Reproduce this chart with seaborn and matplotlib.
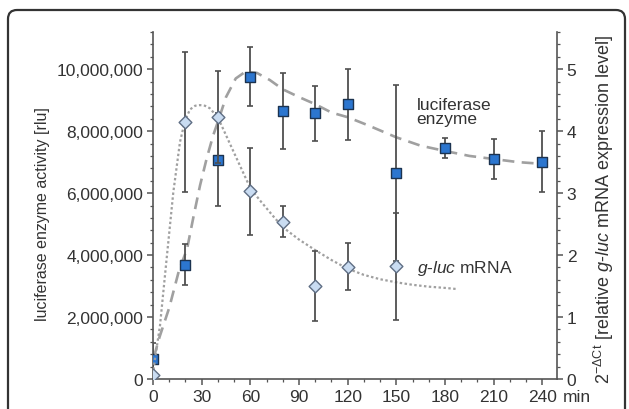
import numpy as np
import pandas as pd
import matplotlib
matplotlib.use("Agg")
import matplotlib.pyplot as plt
import matplotlib.ticker as mticker
from matplotlib.patches import FancyBboxPatch
from matplotlib.transforms import IdentityTransform
import seaborn as sns

# ---- data ----
enz_time = [0, 20, 40, 60, 80, 100, 120, 150, 180, 210, 240]
enz_value = [0.65e6, 3.69e6, 7.07e6, 9.76e6, 8.66e6, 8.58e6, 8.86e6, 6.65e6, 7.45e6, 7.10e6, 7.02e6]
enz_err = [0.5e6, 0.67e6, 1.5e6, 0.95e6, 1.23e6, 0.89e6, 1.15e6, 2.83e6, 0.33e6, 0.66e6, 0.97e6]

mrna_time = [0, 20, 40, 60, 80, 100, 120, 150]
mrna_value = [0.07, 4.15, 4.23, 3.03, 2.54, 1.50, 1.81, 1.82]
mrna_err = [0.03, 1.13, 0.74, 0.70, 0.25, 0.56, 0.38, 0.86]

enz_fit_time = [0.5, 4, 10, 16, 21, 25, 29, 33, 37, 40, 45, 51, 57, 64, 72, 80, 90,
                100, 110, 120, 132, 150, 165, 180, 195, 210, 225, 241]
enz_fit_value = [0.7e6, 1.35e6, 2.3e6, 3.5e6, 4.2e6, 5.25e6, 6.25e6, 7.1e6, 7.85e6, 8.3e6,
                 9.1e6, 9.7e6, 9.92e6, 9.88e6, 9.65e6, 9.35e6, 9.1e6, 8.87e6, 8.6e6, 8.45e6,
                 8.2e6, 7.8e6, 7.53e6, 7.36e6, 7.2e6, 7.1e6, 7.0e6, 6.94e6]

mrna_fit_time = [0, 1.2, 4.3, 8.4, 12.5, 16.6, 19.7, 22.8, 26, 29, 32, 35, 40, 47, 54, 60,
                 66, 74, 80, 90, 100, 110, 120, 130, 140, 150, 160, 170, 180, 188]
mrna_fit_value = [0.07, 0.32, 0.86, 1.94, 3.01, 3.82, 4.17, 4.35, 4.41, 4.42, 4.41, 4.37,
                  4.22, 3.82, 3.42, 3.08, 2.88, 2.63, 2.45, 2.25, 2.08, 1.92, 1.78, 1.68,
                  1.61, 1.56, 1.52, 1.49, 1.47, 1.45]

x_ticks = [0, 30, 60, 90, 120, 150, 180, 210, 240]
left_ticks = [0, 2e6, 4e6, 6e6, 8e6, 10e6]
right_ticks = [0, 1, 2, 3, 4, 5]

# ---- style ----
sns.set_theme(style="ticks")
plt.rcParams["font.family"] = ["Liberation Sans", "DejaVu Sans"]
plt.rcParams["mathtext.fontset"] = "custom"
plt.rcParams["mathtext.rm"] = "Liberation Sans"
plt.rcParams["mathtext.it"] = "Liberation Sans:italic"
plt.rcParams["mathtext.bf"] = "Liberation Sans:bold"

FS = 12.5
axis_col = "#555555"
txt_col = "#333333"
curve_col = "#a0a0a0"
err_col = "#4f4f4f"
sq_fill = "#2c76cf"
sq_edge = "#1c3350"
dm_fill = "#c9dcf2"
dm_edge = "#5f6e84"

fig = plt.figure(figsize=(6.29, 4.10), dpi=100)
fig.patch.set_facecolor("white")
ax = fig.add_axes([153 / 629, 1 - 380 / 410, (557 - 153) / 629, (380 - 33) / 410])
ax2 = ax.twinx()

# rounded frame around figure
frame = FancyBboxPatch((8, -30), 617, 429, boxstyle="round,pad=0,rounding_size=9",
                       transform=IdentityTransform(), facecolor="none",
                       edgecolor="#333333", linewidth=1.6, clip_on=False, zorder=-10)
fig.add_artist(frame)

# fitted curves
sns.lineplot(x=enz_fit_time, y=enz_fit_value, ax=ax, color=curve_col, linewidth=1.9,
             linestyle=(0, (4.5, 2.8)), sort=False, zorder=1)
sns.lineplot(x=mrna_fit_time, y=mrna_fit_value, ax=ax2, color=curve_col, linewidth=1.6,
             linestyle=(0, (1.1, 1.1)), sort=False, zorder=1)

# error bars
ax.errorbar(enz_time, enz_value, yerr=enz_err, fmt="none", ecolor=err_col,
            elinewidth=1.3, capsize=1.9, capthick=1.2, zorder=2)
ax2.errorbar(mrna_time, mrna_value, yerr=mrna_err, fmt="none", ecolor=err_col,
             elinewidth=1.3, capsize=1.9, capthick=1.2, zorder=2)

# markers
sns.scatterplot(x=enz_time, y=enz_value, ax=ax, marker="s", s=42, color=sq_fill,
                edgecolor=sq_edge, linewidth=1.0, zorder=3)
sns.scatterplot(x=mrna_time, y=mrna_value, ax=ax2, marker="D", s=42, color=dm_fill,
                edgecolor=dm_edge, linewidth=1.0, zorder=3)

# axes limits and ticks
ax.set_xlim(0, 249)
ax.set_ylim(0, 11.2e6)
ax2.set_ylim(0, 5.6)
ax.set_xticks(x_ticks)
ax.set_yticks(left_ticks)
ax2.set_yticks(right_ticks)
ax.xaxis.set_minor_locator(mticker.MultipleLocator(10))
ax.yaxis.set_minor_locator(mticker.MultipleLocator(0.4e6))
ax2.yaxis.set_minor_locator(mticker.MultipleLocator(0.2))
ax.yaxis.set_major_formatter(mticker.FuncFormatter(lambda v, p: f"{int(round(v)):,}"))
ax2.yaxis.set_major_formatter(mticker.FuncFormatter(lambda v, p: f"{int(round(v))}"))

for a in (ax, ax2):
    a.tick_params(which="major", direction="out", length=4, width=1.1, pad=3,
                  colors=axis_col, labelcolor=txt_col, labelsize=FS)
    a.tick_params(which="minor", direction="out", length=2.2, width=0.9, colors=axis_col)
    for s in a.spines.values():
        s.set_color(axis_col)
        s.set_linewidth(1.2)
    a.set_facecolor("none")
    a.grid(False)

ax.spines["top"].set_visible(False)
ax.spines["right"].set_visible(False)
ax2.spines["top"].set_visible(False)
ax2.spines["left"].set_visible(False)
ax2.spines["bottom"].set_visible(False)

ax.set_xlabel("")
ax.set_ylabel("luciferase enzyme activity [rlu]", fontsize=11.5, color=txt_col)
ax.yaxis.set_label_coords(-0.255, 0.478)
ax2.set_ylabel(r"$2^{-\Delta\mathrm{Ct}}$ [relative $\mathit{g}$-$\mathit{luc}$ mRNA expression level]",
               fontsize=13, color=txt_col)
ax2.yaxis.set_label_coords(1.087, 0.49)

ax.annotate("min", xy=(1, 0), xycoords="axes fraction", xytext=(4.5, -7),
            textcoords="offset points", ha="left", va="top", fontsize=FS, color=txt_col)

ax.text(162.5, 9.1e6, "luciferase\nenzyme", ha="left", va="top", fontsize=FS,
        color=txt_col, linespacing=0.9)
ax.text(162.5, 3.61e6, r"$\mathit{g}$-$\mathit{luc}$ mRNA", ha="left", va="center",
        fontsize=FS, color=txt_col)

fig.savefig("out.png", dpi=100, facecolor="white")
